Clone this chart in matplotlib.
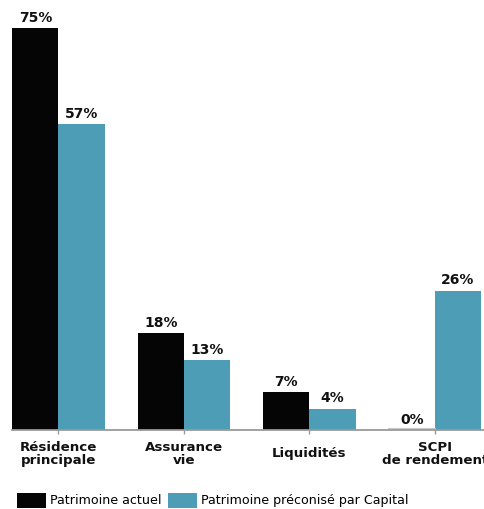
import matplotlib.pyplot as plt
import numpy as np

# données
categories = ['Résidence\nprincipale', 'Assurance\nvie', 'Liquidités', 'SCPI\nde rendement']
actuel = [75, 18, 7, 0]
preconise = [57, 13, 4, 26]

black = '#050505'
teal = '#4c9db5'

fig = plt.figure(figsize=(4.85, 5.09), dpi=100)
ax = fig.add_axes([12 / 485, 79 / 509, 1 - 12 / 485, 429 / 509])

x = np.arange(len(categories))
w = 0.368
b1 = ax.bar(x - w / 2, actuel, w, color=black, label='Patrimoine actuel')
b2 = ax.bar(x + w / 2, preconise, w, color=teal, label='Patrimoine préconisé par Capital')

# valeur 0 : petit trait gris
ax.plot([x[3] - w, x[3]], [0.15, 0.15], color='#c8c8c8', lw=1.5)

for bars, vals in ((b1, actuel), (b2, preconise)):
    for r, v in zip(bars, vals):
        ax.text(r.get_x() + r.get_width() / 2, v + 0.6, f'{v}%', ha='center', va='bottom',
                fontsize=10, fontweight='heavy', color='#111111')

ax.set_xlim(-0.37, 3.4)
ax.set_ylim(0, 80)
ax.set_yticks([])
for s in ['top', 'right', 'left']:
    ax.spines[s].set_visible(False)
ax.spines['bottom'].set_color('#9a9a9a')
ax.spines['bottom'].set_linewidth(1.3)

ax.set_xticks(x)
ax.set_xticklabels(categories, fontsize=9.6, fontweight='bold', color='#111111', linespacing=1.0)
ax.tick_params(axis='x', length=3, width=1, color='#9a9a9a', pad=14)
for lab in ax.get_xticklabels():
    lab.set_va('center')

fig.legend(handles=[b1, b2], loc='lower left', bbox_to_anchor=(0.025, -0.008), ncol=2, frameon=False,
           handlelength=2.27, handleheight=1.5, handletextpad=0.31, columnspacing=0.55,
           borderaxespad=0.0, prop={'size': 9.1})

plt.savefig('out.png', dpi=100)
